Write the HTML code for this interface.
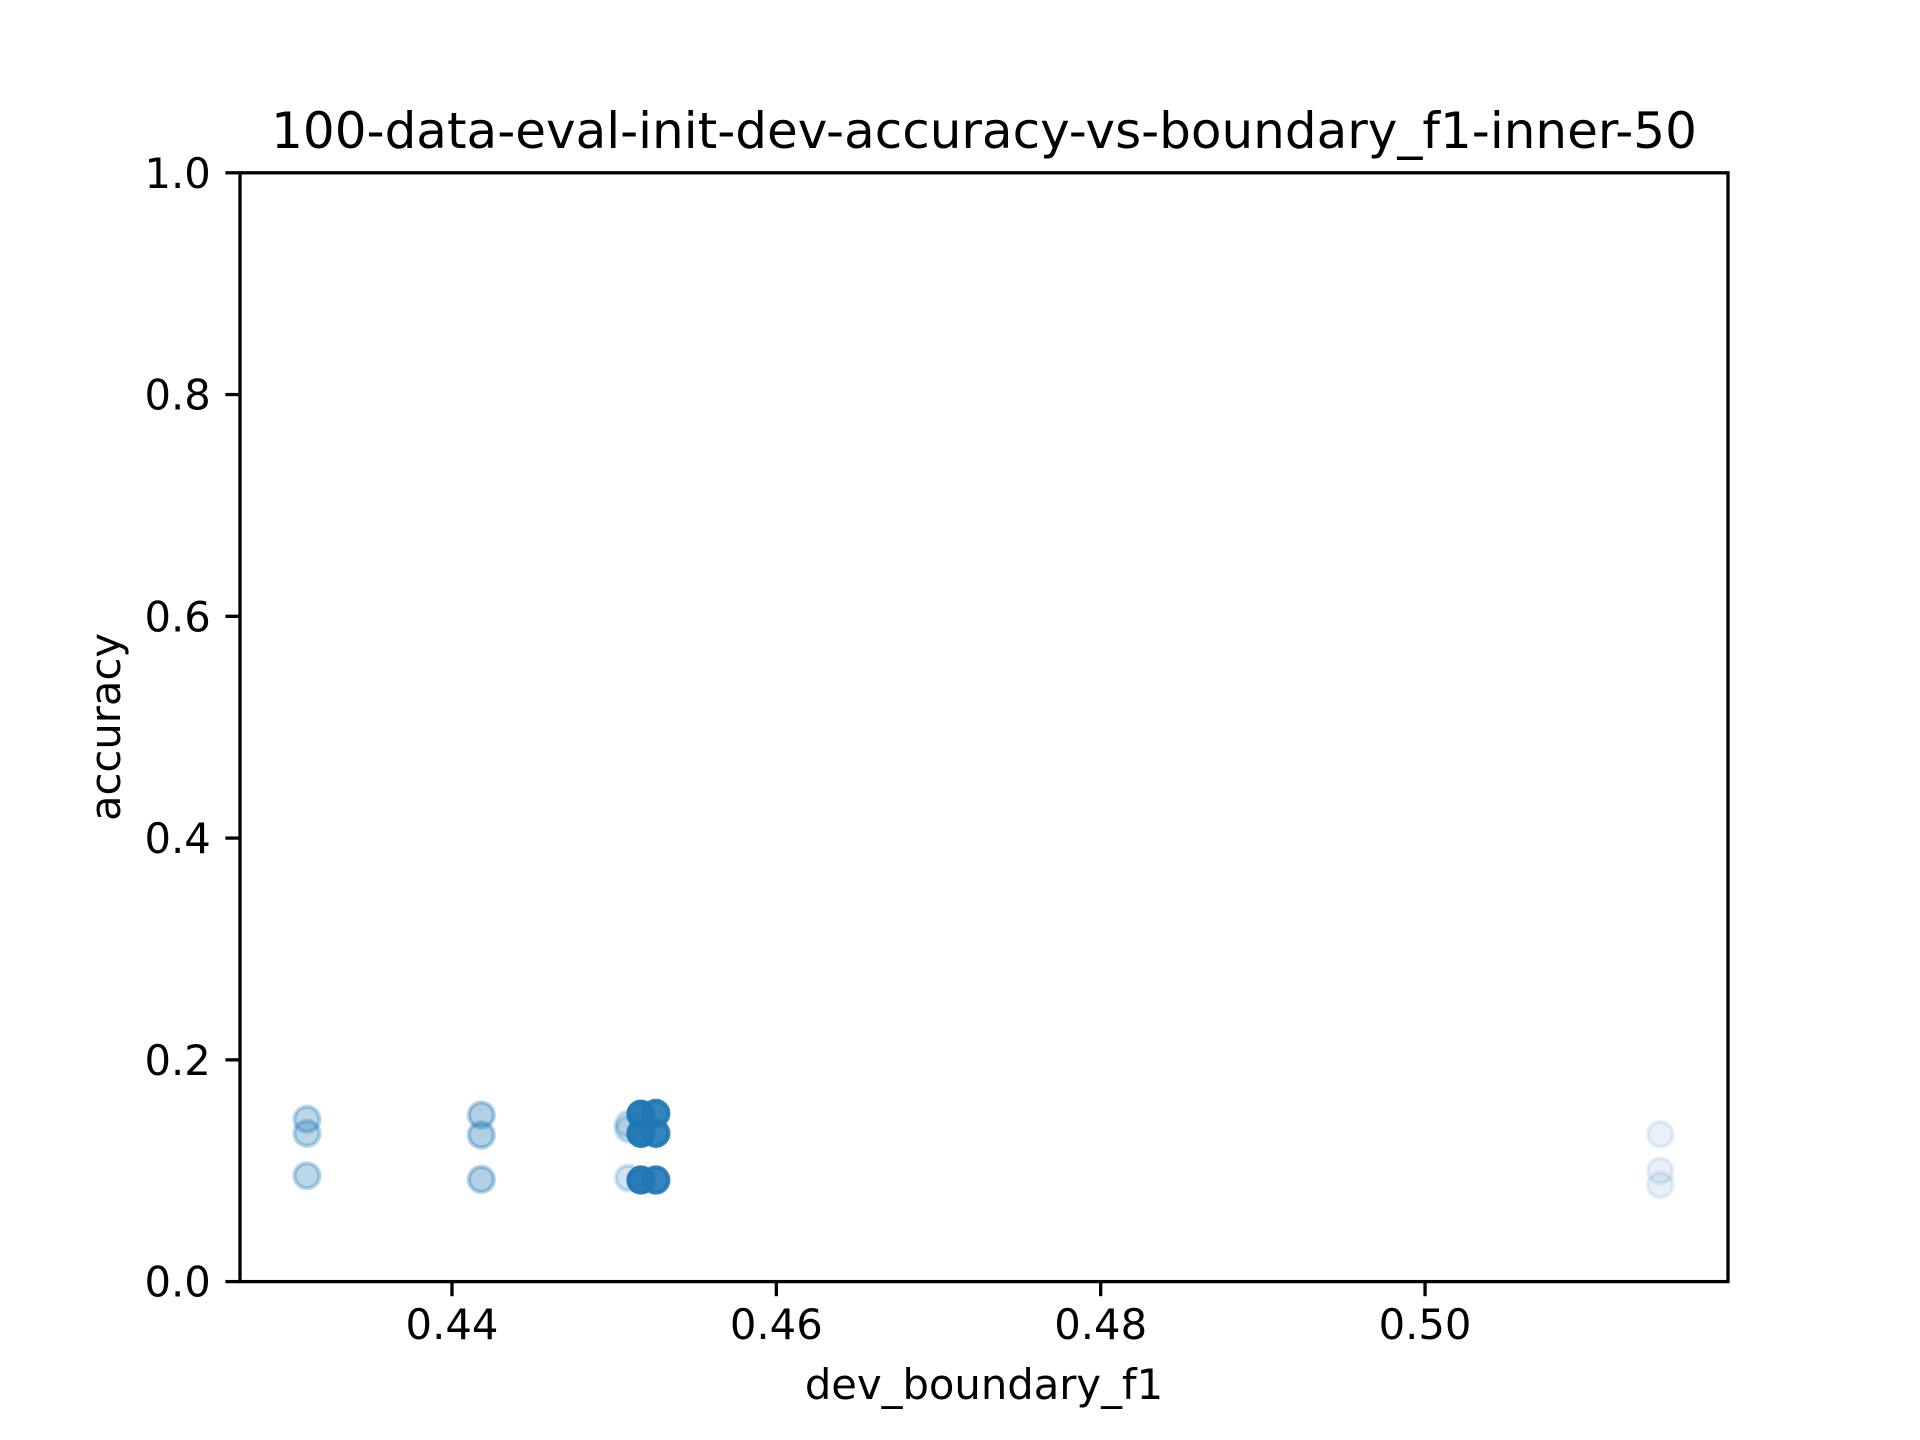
<!DOCTYPE html>
<html><head><meta charset="utf-8"><style>
html,body{margin:0;padding:0;background:#fff;width:1920px;height:1440px;overflow:hidden}
text{font-family:"DejaVu Sans","Liberation Sans",sans-serif;fill:#000}
</style></head><body>
<svg id="chart" width="1920" height="1440" viewBox="0 0 1920 1440" xmlns="http://www.w3.org/2000/svg">
<rect width="1920" height="1440" fill="#fff"/>
<text x="984" y="148" font-size="50" text-anchor="middle">100-data-eval-init-dev-accuracy-vs-boundary_f1-inner-50</text>
<text x="984" y="1399" font-size="41.7" text-anchor="middle">dev_boundary_f1</text>
<text transform="translate(120,727) rotate(-90)" font-size="41.7" text-anchor="middle">accuracy</text>
<g id="marks"></g>
<g id="axes"></g>
</svg>
<script>
const xTicks = [0.44, 0.46, 0.48, 0.50];
const xTickLabels = ["0.44", "0.46", "0.48", "0.50"];
const yTicks = [0, 0.2, 0.4, 0.6, 0.8, 1.0];
const yTickLabels = ["0.0", "0.2", "0.4", "0.6", "0.8", "1.0"];
const pointX = [0.43106,0.43106,0.43106, 0.44181,0.44181,0.44181, 0.45088,0.45088,0.45088, 0.45165,0.45165,0.45165, 0.45257,0.45257,0.45257, 0.51451,0.51451,0.51451];
const pointY = [0.1464,0.1337,0.0955, 0.1502,0.1322,0.0922, 0.1420,0.1376,0.0934, 0.1510,0.1337,0.0916, 0.1517,0.1337,0.0916, 0.1328,0.1000,0.0871];
const pointAlpha = [0.3,0.3,0.3, 0.35,0.35,0.35, 0.2,0.2,0.2, 0.95,0.95,0.95, 0.9,0.9,0.9, 0.1,0.1,0.1];

const L=240, R=1728, T=172.8, B=1281.6;
const xMin=0.42693, xMax=0.51868, yMin=0, yMax=1;
const xs = v => L + (v - xMin) / (xMax - xMin) * (R - L);
const ys = v => B - (v - yMin) / (yMax - yMin) * (B - T);
const NS = "http://www.w3.org/2000/svg";
const marks = document.getElementById('marks');
const axes = document.getElementById('axes');
function mk(tag, attrs, parent){const e=document.createElementNS(NS,tag);for(const k in attrs)e.setAttribute(k,attrs[k]);parent.appendChild(e);return e;}

pointX.forEach((v,i)=>{
  const c = mk('circle',{cx:xs(v),cy:ys(pointY[i]),r:12.5,fill:'#1f77b4',stroke:'#1f77b4','stroke-width':4.2,'fill-opacity':pointAlpha[i],'stroke-opacity':pointAlpha[i]},marks);
  
  
});

const frame = mk('rect',{x:L,y:T,width:R-L,height:B-T,fill:'none',stroke:'#000','stroke-width':3.3},axes);



xTicks.forEach((v,i)=>{
  const x = xs(v);
  const t = mk('line',{x1:x,x2:x,y1:B,y2:B+14.6,stroke:'#000','stroke-width':3.3},axes);
  
  
  const lb = mk('text',{x:x,y:B+14.6+14.6+28,'font-size':41.7,'text-anchor':'middle'},axes);
  lb.textContent = xTickLabels[i];
  
  
});
yTicks.forEach((v,i)=>{
  const y = ys(v);
  const t = mk('line',{x1:L-14.6,x2:L,y1:y,y2:y,stroke:'#000','stroke-width':3.3},axes);
  
  
  const lb = mk('text',{x:L-14.6-14.6,y:y+15,'font-size':41.7,'text-anchor':'end'},axes);
  lb.textContent = yTickLabels[i];
  
  
});
</script>
</body></html>
